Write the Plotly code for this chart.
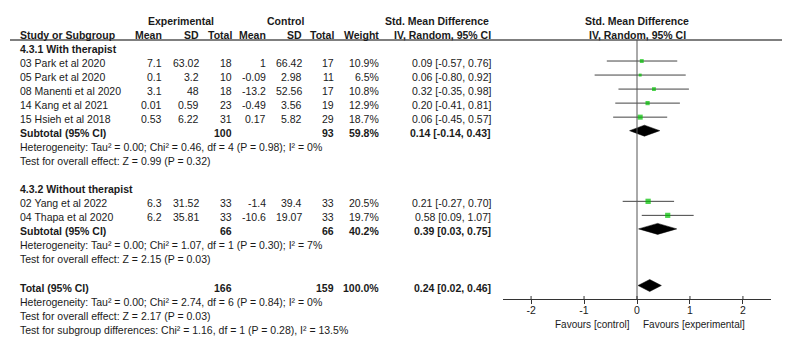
import plotly.graph_objects as go

# ---------------- data ----------------
studies = ["03 Park et al 2020", "05 Park et al 2020", "08 Manenti et al 2020",
           "14 Kang et al 2021", "15 Hsieh et al 2018",
           "02 Yang et al 2022", "04 Thapa et al 2020"]
group_of = [0, 0, 0, 0, 0, 1, 1]
exp_mean = [7.1, 0.1, 3.1, 0.01, 0.53, 6.3, 6.2]
exp_sd = [63.02, 3.2, 48, 0.59, 6.22, 31.52, 35.81]
exp_n = [18, 10, 18, 23, 31, 33, 33]
ctl_mean = [1, -0.09, -13.2, -0.49, 0.17, -1.4, -10.6]
ctl_sd = [66.42, 2.98, 52.56, 3.56, 5.82, 39.4, 19.07]
ctl_n = [17, 11, 17, 19, 29, 33, 33]
weight = [10.9, 6.5, 10.8, 12.9, 18.7, 20.5, 19.7]
smd = [0.09, 0.06, 0.32, 0.20, 0.06, 0.21, 0.58]
ci_lo = [-0.57, -0.80, -0.35, -0.41, -0.45, -0.27, 0.09]
ci_hi = [0.76, 0.92, 0.98, 0.81, 0.57, 0.70, 1.07]

group_names = ["4.3.1 With therapist", "4.3.2 Without therapist"]
sub_exp_n = [100, 66]
sub_ctl_n = [93, 66]
sub_weight = [59.8, 40.2]
sub_smd = [0.14, 0.39]
sub_lo = [-0.14, 0.03]
sub_hi = [0.43, 0.75]
sub_het = ["Heterogeneity: Tau² = 0.00; Chi² = 0.46, df = 4 (P = 0.98); I² = 0%",
           "Heterogeneity: Tau² = 0.00; Chi² = 1.07, df = 1 (P = 0.30); I² = 7%"]
sub_test = ["Test for overall effect: Z = 0.99 (P = 0.32)",
            "Test for overall effect: Z = 2.15 (P = 0.03)"]

tot_exp_n = 166
tot_ctl_n = 159
tot_weight = 100.0
tot_smd = 0.24
tot_lo = 0.02
tot_hi = 0.46
tot_het = "Heterogeneity: Tau² = 0.00; Chi² = 2.74, df = 6 (P = 0.84); I² = 0%"
tot_test = "Test for overall effect: Z = 2.17 (P = 0.03)"
sub_diff = "Test for subgroup differences: Chi² = 1.16, df = 1 (P = 0.28), I² = 13.5%"

tick_vals = [-2, -1, 0, 1, 2]
fav_left = "Favours [control]"
fav_right = "Favours [experimental]"

# ---------------- layout helpers ----------------
PAGE_W, PAGE_H = 792, 347
OFF = 8  # default body margin of the html page
W, H = PAGE_W - 2 * OFF, PAGE_H - 2 * OFF
FONT = "Liberation Sans, Arial, sans-serif"
FS = 10.5
TXT = "#1a1a1a"
GREEN = "#00c000"


def px(x):  # page pixel -> paper x
    return (x - OFF) / W


def py(y):  # page pixel -> paper y
    return 1 - (y - OFF) / H


def row_y(i):
    return 49 + 14.03 * i


annotations = []


def ann(text, x, y, anchor="left", bold=False, size=FS):
    if bold:
        text = "<b>" + text + "</b>"
    annotations.append(dict(text=text, x=px(x), y=py(y), xref="paper", yref="paper",
                            xanchor=anchor, yanchor="middle", showarrow=False,
                            borderpad=0,
                            font=dict(family=FONT, size=size, color=TXT)))


def fmt(v):
    return f"{v:g}"


def fci(m, l, h):
    return f"{m:.2f} [{l:.2f}, {h:.2f}]"


COL = dict(study=19, emean=163, esd=200, en=233, cmean=267, csd=303, cn=335,
           w=380, ci=492, plot=637)

# headers
ann("Experimental", 181, 21, "center", True)
ann("Control", 285, 21, "center", True)
ann("Std. Mean Difference", 437, 21, "center", True)
ann("Std. Mean Difference", COL["plot"], 21, "center", True)
ann("Study or Subgroup", COL["study"], 35, "left", True)
ann("Mean", COL["emean"], 35, "right", True)
ann("SD", COL["esd"], 35, "right", True)
ann("Total", COL["en"], 35, "right", True)
ann("Mean", COL["cmean"], 35, "right", True)
ann("SD", COL["csd"], 35, "right", True)
ann("Total", COL["cn"], 35, "right", True)
ann("Weight", COL["w"], 35, "right", True)
ann("IV, Random, 95% CI", COL["ci"], 35, "right", True)
ann("IV, Random, 95% CI", COL["plot"], 35, "center", True)

# rows
study_y = []
sub_y = []
r = 0
for g in range(2):
    ann(group_names[g], COL["study"], row_y(r), "left", True)
    r += 1
    for k in range(len(studies)):
        if group_of[k] != g:
            continue
        y = row_y(r)
        study_y.append(y)
        ann(studies[k], COL["study"], y)
        ann(fmt(exp_mean[k]), COL["emean"], y, "right")
        ann(fmt(exp_sd[k]), COL["esd"], y, "right")
        ann(fmt(exp_n[k]), COL["en"], y, "right")
        ann(fmt(ctl_mean[k]), COL["cmean"], y, "right")
        ann(fmt(ctl_sd[k]), COL["csd"], y, "right")
        ann(fmt(ctl_n[k]), COL["cn"], y, "right")
        ann(f"{weight[k]:.1f}%", COL["w"], y, "right")
        ann(fci(smd[k], ci_lo[k], ci_hi[k]), COL["ci"], y, "right")
        r += 1
    y = row_y(r)
    sub_y.append(y)
    ann("Subtotal (95% CI)", COL["study"], y, "left", True)
    ann(str(sub_exp_n[g]), COL["en"], y, "right", True)
    ann(str(sub_ctl_n[g]), COL["cn"], y, "right", True)
    ann(f"{sub_weight[g]:.1f}%", COL["w"], y, "right", True)
    ann(fci(sub_smd[g], sub_lo[g], sub_hi[g]), COL["ci"], y, "right", True)
    r += 1
    ann(sub_het[g], COL["study"], row_y(r))
    r += 1
    ann(sub_test[g], COL["study"], row_y(r))
    r += 2

y = row_y(r)
tot_y = y
ann("Total (95% CI)", COL["study"], y, "left", True)
ann(str(tot_exp_n), COL["en"], y, "right", True)
ann(str(tot_ctl_n), COL["cn"], y, "right", True)
ann(f"{tot_weight:.1f}%", COL["w"], y, "right", True)
ann(fci(tot_smd, tot_lo, tot_hi), COL["ci"], y, "right", True)
ann(tot_het, COL["study"], row_y(r + 1))
ann(tot_test, COL["study"], row_y(r + 2))
ann(sub_diff, COL["study"], row_y(r + 3))

ann(fav_left, 631, 324, "right", size=10)
ann(fav_right, 642, 324, "left", size=10)

# ---------------- figure ----------------
AX_Y = 299  # page pixel y of the x-axis line
fig = go.Figure()

mark_y = [v - 2 for v in study_y]
fig.add_trace(go.Scatter(
    x=smd, y=mark_y, mode="markers",
    marker=dict(symbol="square", color=GREEN, size=[1.17 * w ** 0.5 for w in weight],
                line=dict(width=0)),
    error_x=dict(type="data", symmetric=False,
                 array=[h - m for h, m in zip(ci_hi, smd)],
                 arrayminus=[m - l for m, l in zip(smd, ci_lo)],
                 width=0, thickness=1, color="#444"),
    hoverinfo="skip", showlegend=False))


def diamond(m, l, h, cy, half):
    fig.add_trace(go.Scatter(
        x=[l, m, h, m, l], y=[cy, cy - half, cy, cy + half, cy],
        mode="lines", fill="toself", fillcolor="black",
        line=dict(color="black", width=0.5), hoverinfo="skip", showlegend=False))


for g in range(2):
    diamond(sub_smd[g], sub_lo[g], sub_hi[g], sub_y[g] - 2.5, 5.5)
diamond(tot_smd, tot_lo, tot_hi, tot_y - 2, 6)

shapes = [
    dict(type="line", xref="paper", yref="paper", x0=px(10), x1=px(782),
         y0=py(40), y1=py(40), line=dict(color="#555", width=1.3)),
    dict(type="line", xref="x", yref="y", x0=0, x1=0, y0=40, y1=AX_Y,
         line=dict(color="#555", width=1)),
]
# upper half of the crossing tick marks
for v in tick_vals:
    shapes.append(dict(type="line", xref="x", yref="y", x0=v, x1=v, y0=AX_Y - 3, y1=AX_Y,
                       line=dict(color="#333", width=1)))

fig.update_layout(
    width=W, height=H, margin=dict(l=0, r=0, t=0, b=0),
    paper_bgcolor="white", plot_bgcolor="white",
    annotations=annotations, shapes=shapes,
    xaxis=dict(domain=[px(503), px(771)], range=[-2.53, 2.53], showgrid=False,
               zeroline=False, showline=True, linecolor="#333", linewidth=1,
               ticks="outside", ticklen=4, tickcolor="#333",
               ticklabelstandoff=-3,
               tickvals=tick_vals, ticktext=[str(v) for v in tick_vals],
               tickfont=dict(family=FONT, size=FS, color=TXT), fixedrange=True),
    yaxis=dict(domain=[py(AX_Y), py(OFF)], range=[AX_Y, OFF], visible=False,
               showgrid=False, zeroline=False, fixedrange=True),
)

fig.write_html("out.html")
